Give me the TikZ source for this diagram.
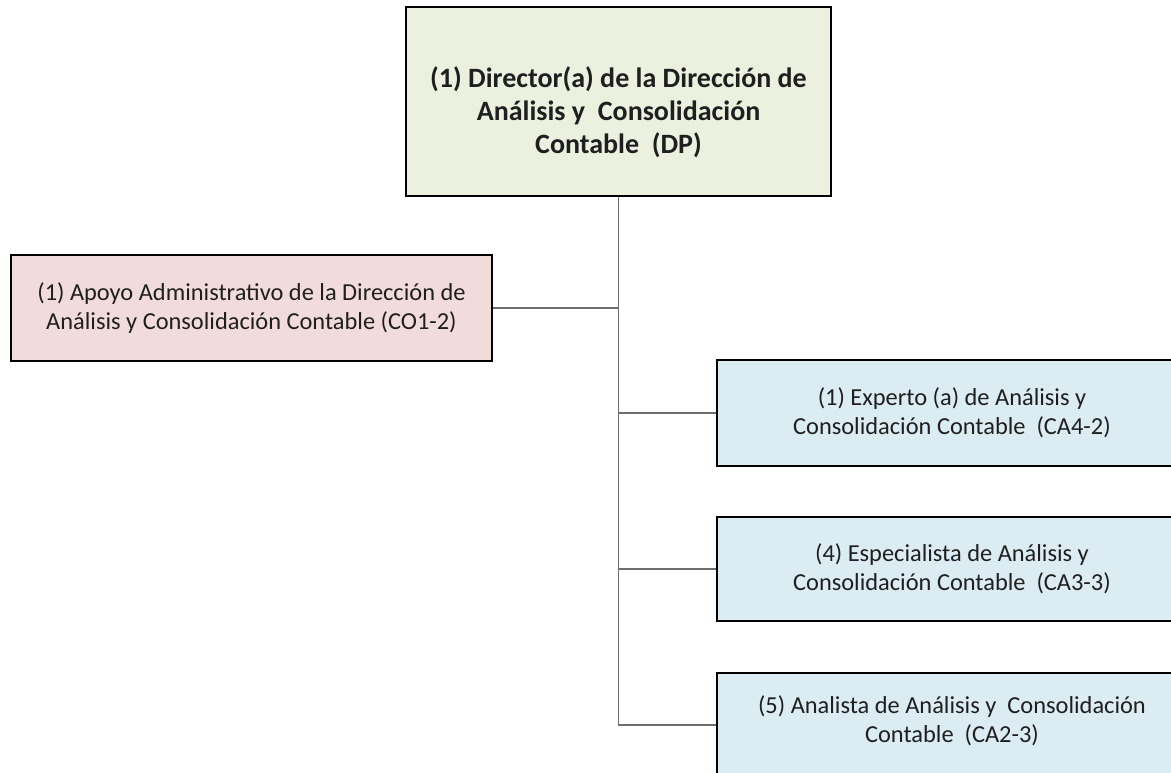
\documentclass[tikz,border=0pt]{standalone}
\usepackage{fontspec}
\setmainfont{Carlito}
\definecolor{topfill}{HTML}{EBF1DE}
\definecolor{apofill}{HTML}{F2DCDB}
\definecolor{bluefill}{HTML}{DBECF3}
\definecolor{connc}{HTML}{6E6E6E}
\definecolor{txt}{HTML}{1F1F1F}
\begin{document}
\begin{tikzpicture}[x=1pt,y=-1pt,
  box/.style={draw=black, line width=1.8pt, rectangle, inner sep=0pt},
  conn/.style={draw=connc, line width=1.1pt},
  bodytext/.style={font=\fontsize{24.4}{29.5}\selectfont, align=center, text=txt},
  headtext/.style={font=\fontsize{28}{33}\selectfont\bfseries, align=center, text=txt}]
\useasboundingbox (0,0) rectangle (1171,773);
\clip (0,0) rectangle (1171,773);
\fill[white] (0,0) rectangle (1171,773);

\node[box, fill=topfill, minimum width=425, minimum height=189] (dir) at (618.5,101.5) {};
\node[headtext] (dirtext) at ([yshift=-11pt]dir.center) {(1) Director(a) de la Dirección de\\Análisis y\ \ Consolidación\\Contable\ \ (DP)};

\node[box, fill=apofill, minimum width=481, minimum height=106] (apo) at (251.5,308) {};
\node[bodytext] (apotext) at (apo.center) {(1) Apoyo Administrativo de la Dirección de\\Análisis y Consolidación Contable (CO1-2)};

\node[box, fill=bluefill, minimum width=470, minimum height=106] (r1) at (952,413) {};
\node[bodytext] (r1text) at (r1.center) {(1) Experto (a) de Análisis y\\Consolidación Contable\ \ (CA4-2)};

\node[box, fill=bluefill, minimum width=470, minimum height=104] (r2) at (952,569) {};
\node[bodytext] (r2text) at (r2.center) {(4) Especialista de Análisis y\\Consolidación Contable\ \ (CA3-3)};

\node[box, fill=bluefill, minimum width=470, minimum height=104] (r3) at (952,725) {};
\node[bodytext] (r3text) at ([yshift=4pt]r3.center) {(5) Analista de Análisis y\ \ Consolidación\\Contable\ \ (CA2-3)};

\draw[conn] (dir.south) -- (dir.south |- r3.west) -- (r3.west);
\draw[conn] (apo.east) -- (apo.east -| dir.south);
\draw[conn] (dir.south |- r1.west) -- (r1.west);
\draw[conn] (dir.south |- r2.west) -- (r2.west);
\end{tikzpicture}
\end{document}
